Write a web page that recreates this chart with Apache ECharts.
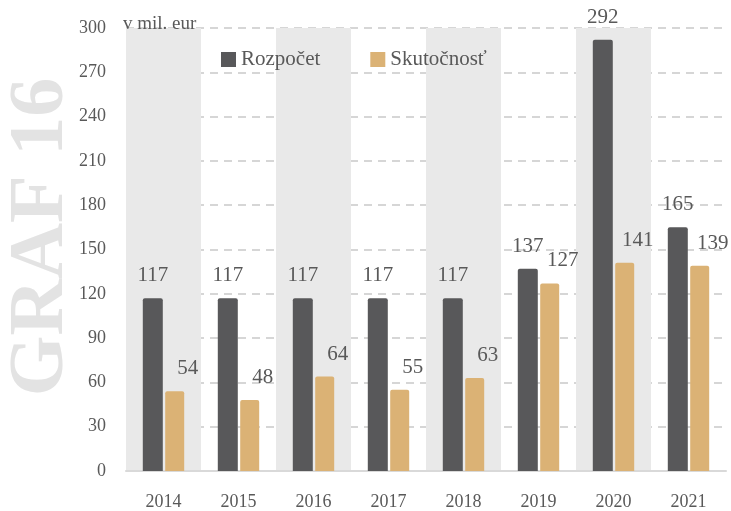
<!DOCTYPE html>
<html>
<head>
<meta charset="utf-8">
<script src="https://cdn.jsdelivr.net/npm/echarts@6/dist/echarts.min.js"></script>
<style>
  html, body { margin: 0; padding: 0; background: #fff; }
  #main { width: 731px; height: 511px; }
</style>
</head>
<body>
<div id="main"></div>
<script>
// chart data
var years = ['2014', '2015', '2016', '2017', '2018', '2019', '2020', '2021'];
var rozpocet = [117, 117, 117, 117, 117, 137, 292, 165];
var skutocnost = [54, 48, 64, 55, 63, 127, 141, 139];

var font = 'Liberation Serif';
var textColor = '#595959';

var chartDom = document.getElementById('main');
var myChart = echarts.init(chartDom);

var option = {
  animation: false,
  textStyle: { fontFamily: font },
  grid: { left: 126, right: 5, top: 28, bottom: 40 },
  graphic: [
    {
      type: 'text',
      x: 42,
      y: 237,
      rotation: Math.PI / 2,
      style: {
        text: 'GRAF 16',
        font: 'bold 78px "Liberation Serif"',
        fill: '#e3e3e3',
        textAlign: 'center',
        textVerticalAlign: 'middle'
      },
      z: 0
    },
    {
      type: 'text',
      x: 123,
      y: 24,
      style: {
        text: 'v mil. eur',
        font: '19px "Liberation Serif"',
        fill: textColor,
        textAlign: 'left',
        textVerticalAlign: 'middle'
      },
      z: 10
    }
  ],
  legend: {
    left: 216,
    top: 44,
    icon: 'rect',
    itemWidth: 15,
    itemHeight: 15,
    itemGap: 50,
    textStyle: { fontFamily: font, fontSize: 21, color: textColor },
    data: ['Rozpočet', 'Skutočnosť']
  },
  xAxis: {
    type: 'category',
    data: years,
    axisTick: { show: false },
    axisLine: { lineStyle: { color: '#d9d9d9', width: 2 } },
    axisLabel: { fontFamily: font, fontSize: 18, color: textColor, margin: 22 },
    splitArea: {
      show: true,
      areaStyle: { color: ['#e9e9e9', 'rgba(255,255,255,0)'] }
    }
  },
  yAxis: {
    type: 'value',
    min: 0,
    max: 300,
    interval: 30,
    axisLine: { show: false },
    axisTick: { show: false },
    axisLabel: { fontFamily: font, fontSize: 18, color: textColor, margin: 20 },
    splitLine: { lineStyle: { color: '#d6d6d6', width: 2, type: [8, 6] } }
  },
  series: [
    {
      name: 'Rozpočet',
      type: 'bar',
      data: rozpocet,
      barWidth: 20,
      barGap: '12%',
      itemStyle: { color: '#58585a', borderRadius: [2, 2, 0, 0] },
      label: {
        show: true,
        position: 'top',
        distance: 12,
        fontFamily: font,
        fontSize: 21,
        color: textColor
      }
    },
    {
      name: 'Skutočnosť',
      type: 'bar',
      data: skutocnost,
      barWidth: 19,
      itemStyle: { color: '#dbb275', borderRadius: [2, 2, 0, 0] },
      label: {
        show: true,
        position: 'top',
        distance: 12,
        offset: [13, 0],
        fontFamily: font,
        fontSize: 21,
        color: textColor
      }
    }
  ]
};

option && myChart.setOption(option);
</script>
</body>
</html>
